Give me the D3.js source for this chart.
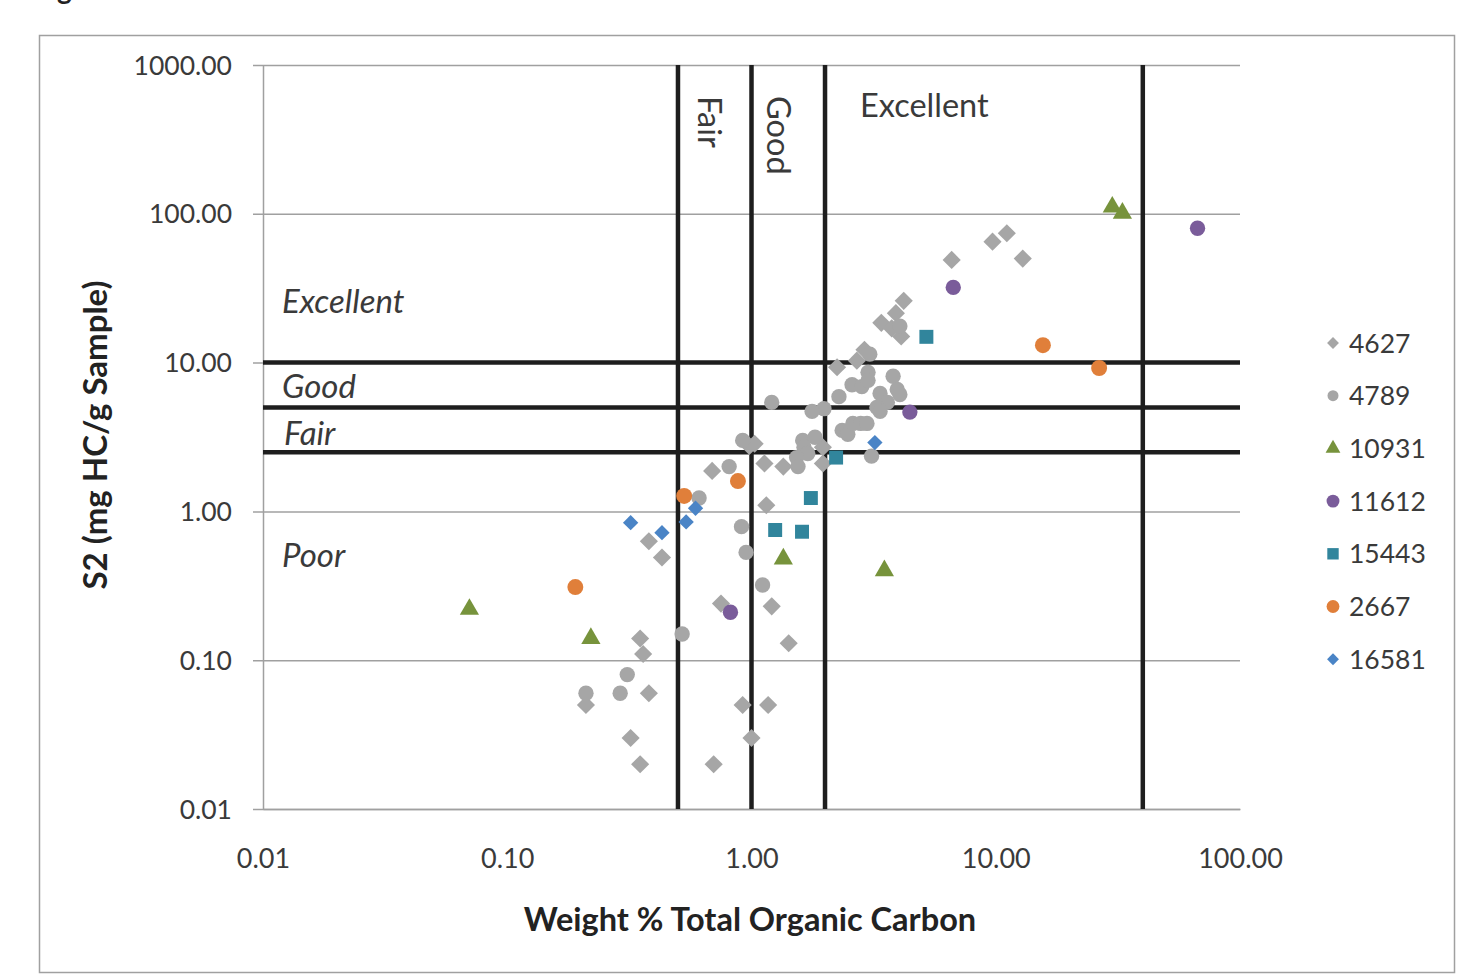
<!DOCTYPE html>
<html>
<head>
<meta charset="utf-8">
<script src="https://cdn.jsdelivr.net/npm/d3@7"></script>
<style>
  html, body { margin: 0; padding: 0; background: #fff; }
  svg text { font-family: Lato, "Open Sans", sans-serif; fill: #3a3a3a; }
</style>
</head>
<body>
<svg id="chart" width="1470" height="979"></svg>
<script>
// TOC (wt %) and S2 (mg HC/g) values
const s4627 = [
  [6.6, 49], [9.7, 65], [11.1, 74], [12.9, 50], [4.2, 26], [3.9, 21.5], [3.4, 18.5],
  [3.75, 17], [4.1, 15], [2.9, 12.2], [2.7, 10.3], [2.24, 9.3], [0.98, 2.75], [1.03, 2.85],
  [1.13, 2.1], [1.35, 2.0], [1.96, 2.7], [1.96, 2.1], [0.69, 1.87], [1.15, 1.1],
  [0.38, 0.63], [0.43, 0.49], [0.75, 0.24], [1.21, 0.23], [1.42, 0.13], [0.35, 0.14],
  [0.36, 0.11], [0.38, 0.06], [0.21, 0.05], [0.92, 0.05], [1.17, 0.05], [0.32, 0.03],
  [1.0, 0.03], [0.35, 0.02], [0.70, 0.02]
];
const s4789 = [
  [4.05, 17.6], [3.05, 11.4], [3.0, 8.6], [3.8, 8.1], [2.28, 5.9], [2.58, 7.1], [2.83, 6.9],
  [3.0, 7.6], [3.36, 6.2], [3.95, 6.6], [4.05, 6.1], [3.6, 5.4], [3.26, 5.0], [3.36, 4.7],
  [1.98, 4.9], [1.77, 4.7], [1.21, 5.4], [2.35, 3.5], [2.48, 3.3], [2.6, 3.9], [2.8, 3.9],
  [2.97, 3.9], [3.1, 2.35], [1.62, 3.0], [1.82, 3.15], [1.64, 2.7], [1.70, 2.45], [1.53, 2.3],
  [1.55, 2.0], [0.81, 2.0], [0.61, 1.23], [0.91, 0.79], [0.95, 0.53], [1.11, 0.32],
  [0.52, 0.15], [0.31, 0.08], [0.21, 0.06], [0.29, 0.06], [0.92, 3.0]
];
const s10931 = [[30, 111], [33, 101], [1.35, 0.48], [3.5, 0.40], [0.070, 0.22], [0.22, 0.14]];
const s11612 = [[6.7, 32], [4.45, 4.65], [67, 80], [0.82, 0.21]];
const s15443 = [[5.2, 14.9], [2.22, 2.3], [1.75, 1.23], [1.25, 0.75], [1.61, 0.73]];
const s2667 = [[15.6, 13.1], [26.5, 9.2], [0.88, 1.6], [0.53, 1.27], [0.19, 0.31]];
const s16581 = [[3.2, 2.9], [0.59, 1.05], [0.54, 0.85], [0.32, 0.84], [0.43, 0.72]];

const seriesNames = ["4627", "4789", "10931", "11612", "15443", "2667", "16581"];
const seriesData = [s4627, s4789, s10931, s11612, s15443, s2667, s16581];

const xTicks = [0.01, 0.1, 1, 10, 100];
const yTicks = [0.01, 0.1, 1, 10, 100, 1000];
const tocLimits = [0.5, 1, 2, 40];     // vertical thick lines
const s2Limits = [2.5, 5, 10];         // horizontal thick lines

const svg = d3.select("#chart");
const styles = {
  "4627": { shape: d3.symbolDiamond2, color: "#a6a6a6", size: 210, leg: 90 },
  "4789": { shape: d3.symbolCircle, color: "#a6a6a6", size: 185, leg: 95 },
  "10931": { shape: d3.symbolTriangle, color: "#77933c", size: 160, leg: 95 },
  "11612": { shape: d3.symbolCircle, color: "#7a5c9a", size: 185, leg: 130 },
  "15443": { shape: d3.symbolSquare, color: "#31859c", size: 195, leg: 130 },
  "2667": { shape: d3.symbolCircle, color: "#e07f3a", size: 200, leg: 130 },
  "16581": { shape: d3.symbolDiamond2, color: "#4a84c6", size: 150, leg: 90 }
};

// header, mostly cut off at the top
svg.append("text").attr("x", 34).attr("y", -1)
  .style("font-size", "28px").style("font-weight", "bold").style("fill", "#222")
  .text("Figure S1");

// outer frame
svg.append("rect").attr("x", 39.5).attr("y", 35.5).attr("width", 1415).attr("height", 937)
  .attr("fill", "none").attr("stroke", "#a0a0a0").attr("stroke-width", 1.5);

const x = d3.scaleLog().domain([0.01, 100]).range([263, 1240]);
const y = d3.scaleLog().domain([0.01, 1000]).range([809, 65]);

// horizontal gridlines + y tick labels
const yAxis = svg.append("g").attr("transform", "translate(263,0)")
  .call(d3.axisLeft(y).tickValues(yTicks).tickSize(-977).tickSizeOuter(0).tickPadding(31)
    .tickFormat(d3.format(".2f")));
yAxis.select(".domain").attr("stroke", "#a0a0a0").attr("stroke-width", 1.5);
yAxis.selectAll(".tick line").attr("stroke", "#a0a0a0").attr("stroke-width", 1.5).attr("x1", -10);
yAxis.selectAll(".tick text").style("font-size", "26.5px").attr("dy", "0.34em");

// x axis
const xAxis = svg.append("g").attr("transform", "translate(0,809)")
  .call(d3.axisBottom(x).tickValues(xTicks).tickSize(0).tickPadding(40)
    .tickFormat(d3.format(".2f")));
xAxis.select(".domain").attr("stroke", "#a0a0a0").attr("stroke-width", 1.5);
xAxis.selectAll(".tick text").style("font-size", "27px");

// classification lines
svg.append("g").selectAll("line").data(s2Limits).join("line")
  .attr("x1", x(0.01)).attr("x2", x(100))
  .attr("y1", d => y(d)).attr("y2", d => y(d))
  .attr("stroke", "#1e1e1e").attr("stroke-width", 4.5);
svg.append("g").selectAll("line").data(tocLimits).join("line")
  .attr("y1", y(0.01)).attr("y2", y(1000))
  .attr("x1", d => x(d)).attr("x2", d => x(d))
  .attr("stroke", "#1e1e1e").attr("stroke-width", 4.5);

// region labels
const italic = (t, px, py) => svg.append("text").attr("x", px).attr("y", py)
  .style("font-size", "33px").style("font-style", "italic").text(t);
italic("Excellent", 282, 313);
italic("Good", 282, 398);
italic("Fair", 284, 445);
italic("Poor", 282, 567);

svg.append("text").attr("x", 860).attr("y", 117).style("font-size", "32.5px").text("Excellent");
svg.append("text").attr("transform", `translate(${x(0.5) + 20},96) rotate(90)`)
  .style("font-size", "32.5px").text("Fair");
svg.append("text").attr("transform", `translate(${x(1) + 15},96) rotate(90)`)
  .style("font-size", "32.5px").text("Good");

// points
seriesNames.forEach((name, i) => {
  const st = styles[name];
  const sym = d3.symbol().type(st.shape).size(st.size);
  svg.append("g").selectAll("path").data(seriesData[i]).join("path")
    .attr("transform", d => `translate(${x(d[0])},${y(d[1])})`)
    .attr("d", sym).attr("fill", st.color);
});

// legend
const legend = svg.append("g");
seriesNames.forEach((name, i) => {
  const st = styles[name];
  const ly = 343 + i * 52.7;
  legend.append("path").attr("transform", `translate(1333,${ly})`)
    .attr("d", d3.symbol().type(st.shape).size(st.leg)).attr("fill", st.color);
  legend.append("text").attr("x", 1349).attr("y", ly).attr("dy", "0.36em")
    .style("font-size", "26.5px").text(name);
});

// axis titles
svg.append("text").attr("x", 750).attr("y", 931).attr("text-anchor", "middle")
  .style("font-size", "32.5px").style("font-weight", "bold").style("fill", "#222")
  .text("Weight % Total Organic Carbon");
svg.append("text").attr("transform", "translate(107,435) rotate(-90)").attr("text-anchor", "middle")
  .style("font-size", "33px").style("font-weight", "bold").style("fill", "#222")
  .text("S2 (mg HC/g Sample)");
</script>
</body>
</html>
